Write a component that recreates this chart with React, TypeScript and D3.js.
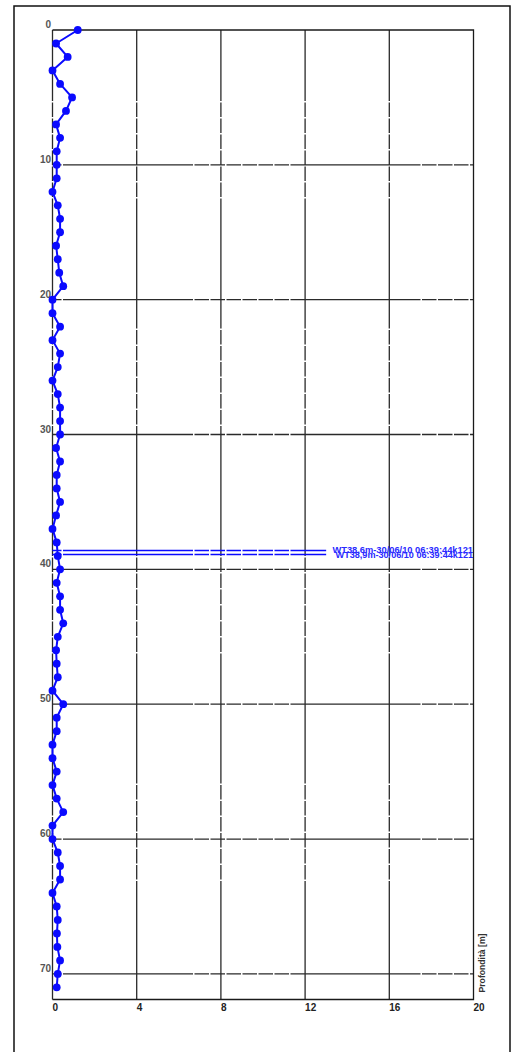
import React, { useEffect } from "react";
import * as d3 from "d3";

// Depth of each reading [m] and the measured value at that depth
const depths = [
  0, 1, 2, 3, 4, 5, 6, 7, 8, 9, 10, 11, 12, 13, 14, 15, 16, 17, 18, 19, 20, 21, 22, 23,
  24, 25, 26, 27, 28, 29, 30, 31, 32, 33, 34, 35, 36, 37, 38, 39, 40, 41, 42, 43, 44, 45,
  46, 47, 48, 49, 50, 51, 52, 53, 54, 55, 56, 57, 58, 59, 60, 61, 62, 63, 64, 65, 66, 67,
  68, 69, 70, 71,
];
const readings = [
  1.2, 0.17, 0.72, 0, 0.36, 0.93, 0.64, 0.17, 0.36, 0.2, 0.2, 0.2, 0, 0.25, 0.36, 0.36,
  0.17, 0.25, 0.32, 0.51, 0, 0, 0.36, 0, 0.36, 0.25, 0, 0.25, 0.36, 0.36, 0.36, 0.17,
  0.36, 0.2, 0.2, 0.36, 0.17, 0, 0.2, 0.25, 0.36, 0.2, 0.36, 0.36, 0.51, 0.25, 0.17, 0.2,
  0.25, 0, 0.51, 0.2, 0.2, 0, 0, 0.2, 0, 0.2, 0.51, 0, 0, 0.25, 0.36, 0.36, 0, 0.2, 0.25,
  0.21, 0.23, 0.36, 0.25, 0.2,
];

const xTicks = [0, 4, 8, 12, 16, 20];
const yTicks = [0, 10, 20, 30, 40, 50, 60, 70];
const xDomain = [0, 20];
const yDomain = [0, 71.9];

// Water table readings
const waterDepths = [38.6, 38.9];
const waterLabels = ["WT38,6m-30/06/10 06:39:44k121", "WT38,9m-30/06/10 06:39:44k121"];
const waterLineEnd = 13.0;
const waterLabelStart = [13.3, 13.45];

const axisTitle = "Profondità [m]";

const W = 512;
const H = 1052;
const plot = { left: 52.5, right: 473.5, top: 30, bottom: 999.5 };

const gridDash = "130,1.5,14.5,1.5,14.5,1.5,14.5,1.5,14.5,1.5,14.5,1.5,14.5,1.5";
const FONT = "'Liberation Sans', Arial, sans-serif";
const BLUE = "#0a0aff";

export default function App() {
  useEffect(() => {
    document.body.style.margin = "0";
  }, []);

  const x = d3.scaleLinear().domain(xDomain).range([plot.left, plot.right]);
  const y = d3.scaleLinear().domain(yDomain).range([plot.top, plot.bottom]);

  const pts = depths.map((d, i) => ({ depth: d, value: readings[i] }));
  const profile = d3
    .line<{ depth: number; value: number }>()
    .x((p) => x(p.value))
    .y((p) => y(p.depth))(pts);

  return (
    <svg
      width={W}
      height={H}
      viewBox={`0 0 ${W} ${H}`}
      style={{ position: "absolute", left: 0, top: 0, display: "block", background: "#fff" }}
      fontFamily={FONT}
    >
      {/* outer frame */}
      <rect x={14} y={6} width={496} height={H + 20} fill="none" stroke="#111" strokeWidth={1.5} />

      {/* vertical grid lines */}
      {xTicks.slice(0, -1).map((t) => (
        <line
          key={`vx${t}`}
          x1={x(t)}
          x2={x(t)}
          y1={plot.top}
          y2={plot.bottom}
          stroke="#2a2a2a"
          strokeWidth={1.3}
          strokeDasharray={gridDash}
          strokeDashoffset={59}
        />
      ))}
      {/* horizontal grid lines */}
      {yTicks.slice(1).map((t) => (
        <line
          key={`hy${t}`}
          x1={plot.left}
          x2={plot.right}
          y1={y(t)}
          y2={y(t)}
          stroke="#2a2a2a"
          strokeWidth={1.3}
          strokeDasharray={gridDash}
          strokeDashoffset={217}
        />
      ))}
      {/* solid borders: top, right, bottom */}
      <path
        d={`M${plot.left},${plot.top}H${plot.right}V${plot.bottom}H${plot.left}`}
        fill="none"
        stroke="#1a1a1a"
        strokeWidth={1.3}
      />

      {/* y tick labels */}
      {yTicks.map((t) => (
        <text
          key={`yl${t}`}
          x={plot.left - 1.5}
          y={y(t) - 2}
          textAnchor="end"
          fontSize={10}
          fontWeight="bold"
          fill="#555"
        >
          {t}
        </text>
      ))}
      {/* x tick labels */}
      {xTicks.map((t) => (
        <text
          key={`xl${t}`}
          x={x(t)}
          y={plot.bottom + 11}
          textAnchor="start"
          fontSize={10}
          fontWeight="bold"
          fill="#222"
        >
          {t}
        </text>
      ))}

      {/* axis title */}
      <text
        transform={`translate(${plot.right + 11},${plot.bottom - 7}) rotate(-90)`}
        fontSize={8.5}
        fontWeight="bold"
        fill="#333"
        textAnchor="start"
        textLength={59}
        lengthAdjust="spacingAndGlyphs"
      >
        {axisTitle}
      </text>

      {/* water table markers */}
      {waterDepths.map((d, i) => (
        <g key={`wt${i}`}>
          <line
            x1={x(0)}
            x2={x(waterLineEnd)}
            y1={y(d)}
            y2={y(d)}
            stroke={BLUE}
            strokeWidth={1.4}
            strokeDasharray={gridDash}
            strokeDashoffset={217}
          />
          <text
            x={x(waterLabelStart[i])}
            y={y(d) + 3}
            fontSize={9}
            fontWeight="bold"
            fill="#2a2aff"
            textLength={x(xDomain[1]) - x(waterLabelStart[i]) - 0.5}
            lengthAdjust="spacingAndGlyphs"
          >
            {waterLabels[i]}
          </text>
        </g>
      ))}

      {/* profile */}
      <path d={profile || ""} fill="none" stroke={BLUE} strokeWidth={2} strokeLinejoin="round" />
      {pts.map((p, i) => (
        <circle key={`pt${i}`} cx={x(p.value)} cy={y(p.depth)} r={3.9} fill={BLUE} />
      ))}
    </svg>
  );
}
